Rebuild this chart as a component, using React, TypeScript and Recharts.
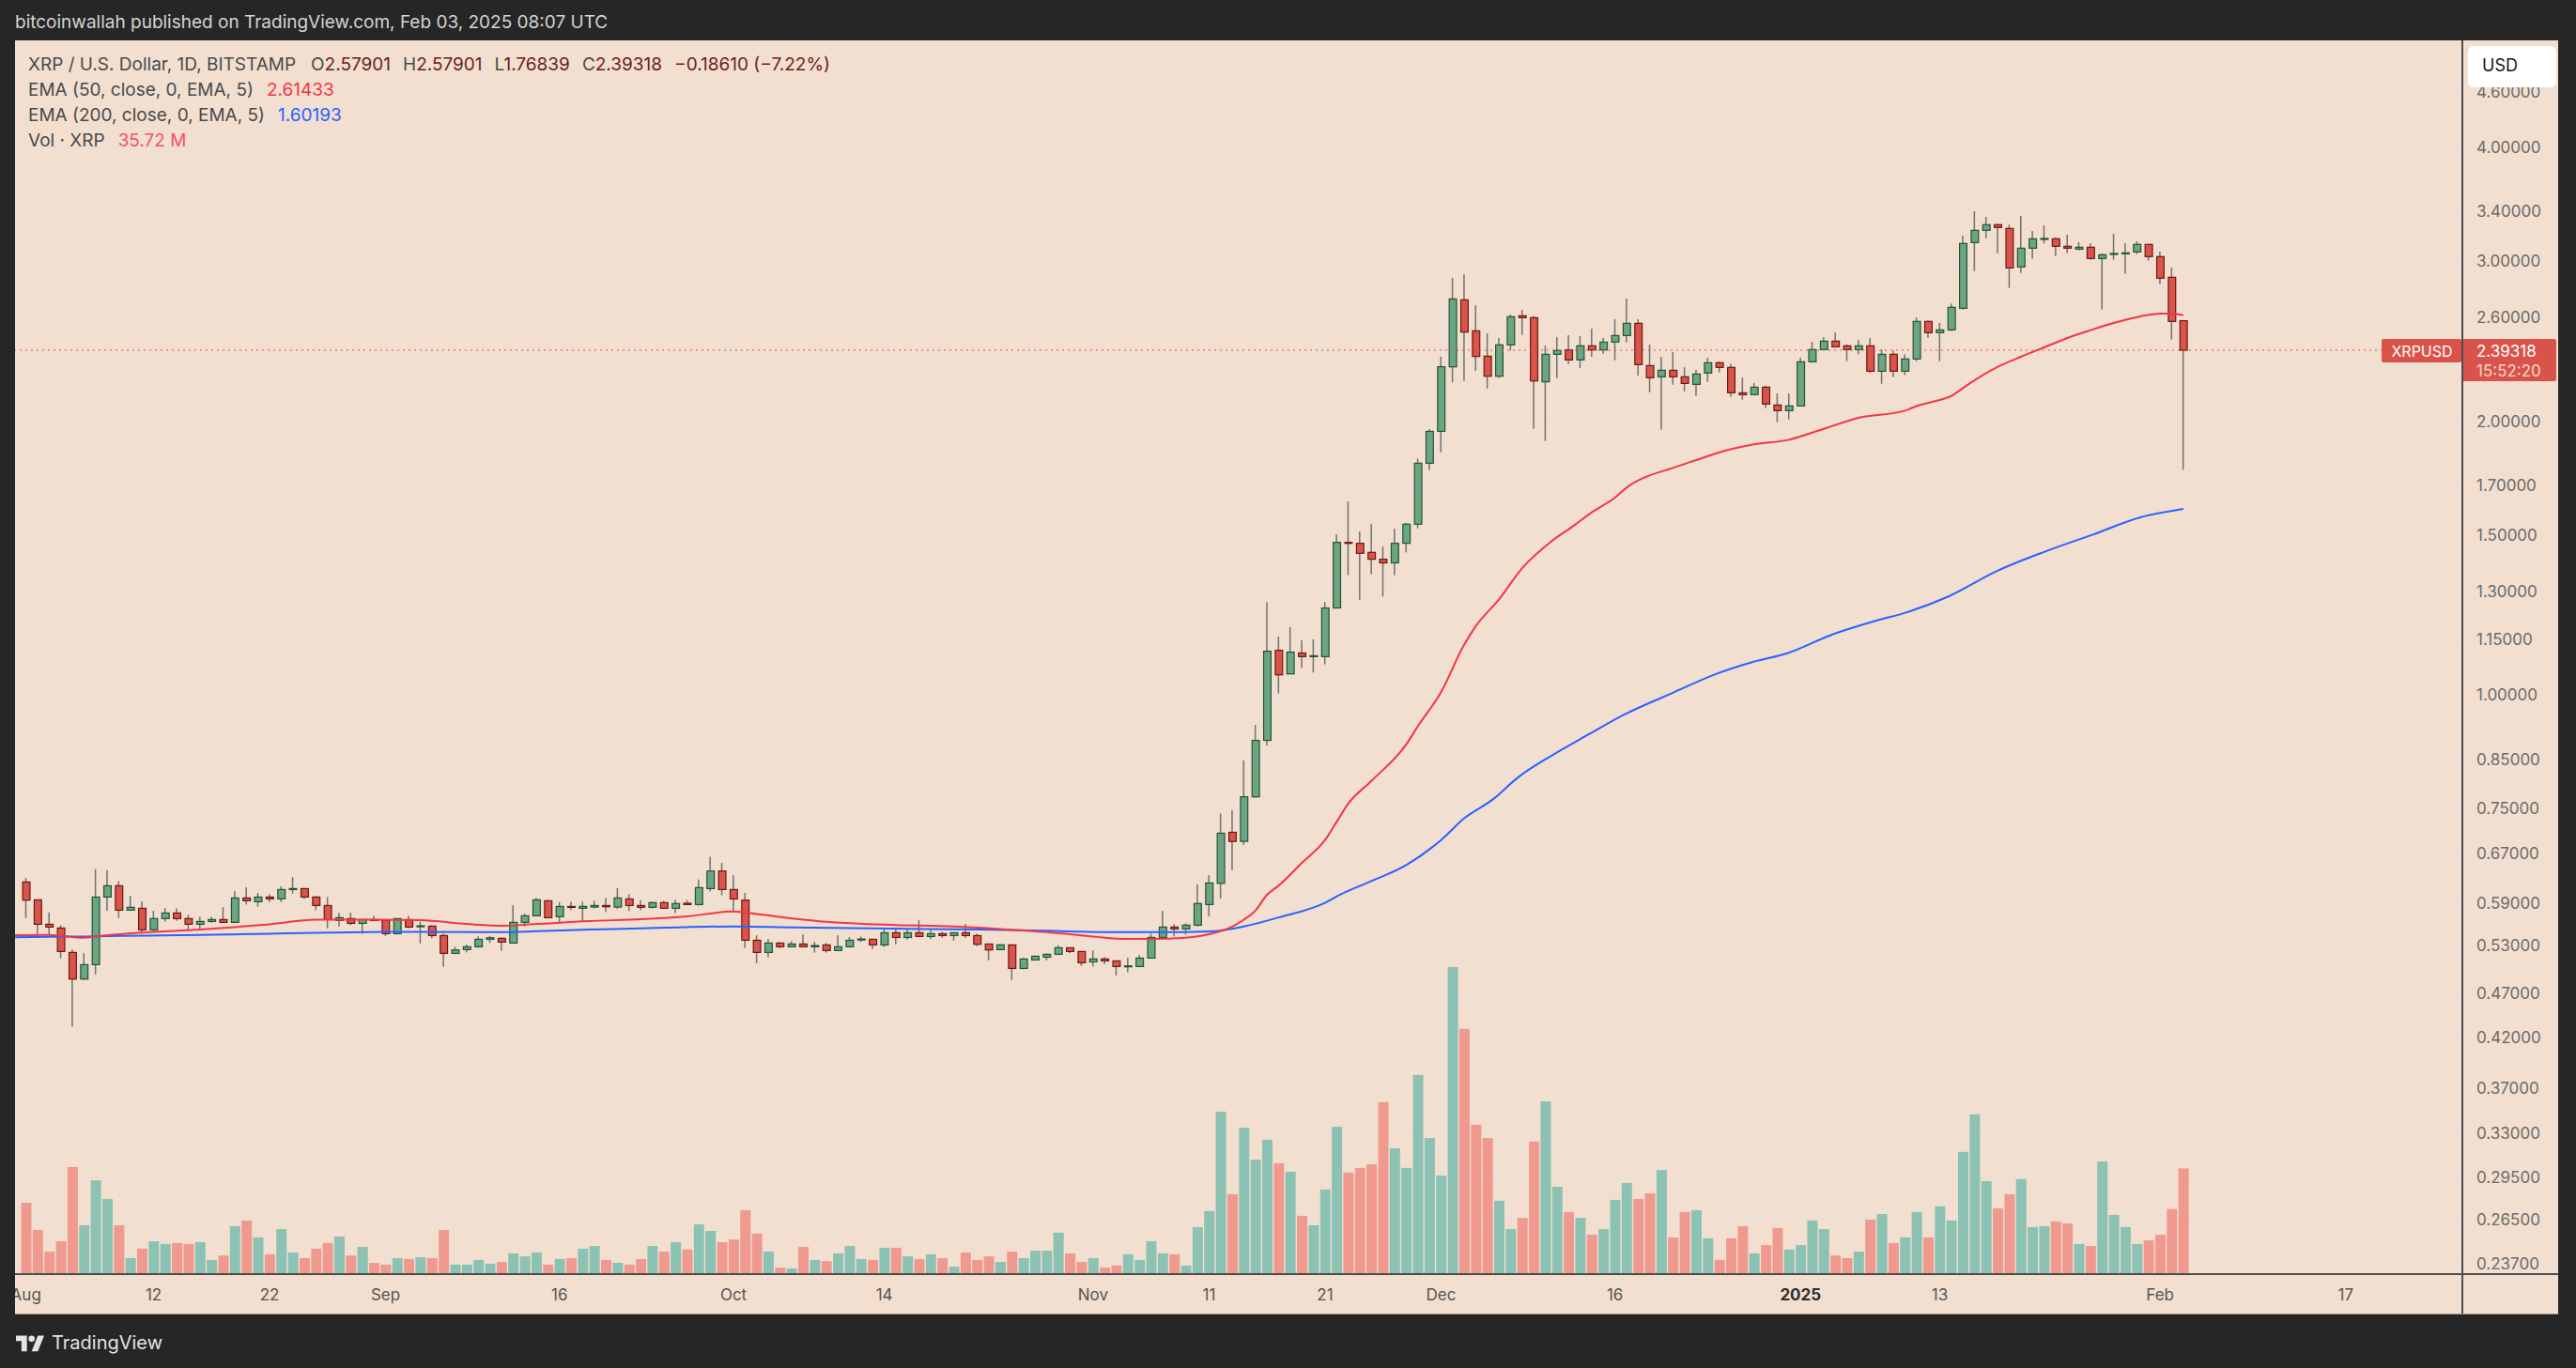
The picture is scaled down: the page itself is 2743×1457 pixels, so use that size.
import React from "react";
import { ComposedChart, Bar, Line, XAxis, YAxis, CartesianGrid, ReferenceLine } from "recharts";

// one candle per day, d = days since 2024-08-01 (last one is 2025-02-03)
const open = [
  0.6230, 0.5955, 0.5598, 0.5545, 0.5213, 0.4873, 0.5054, 0.5997, 0.6171, 0.5801, 0.5829, 0.5519, 0.5679, 0.5760, 0.5679, 0.5598,
  0.5638, 0.5665, 0.5625, 0.5983, 0.5927, 0.5997, 0.5969, 0.6112, 0.6127, 0.5997, 0.5870, 0.5652, 0.5679, 0.5611, 0.5665,
  0.5652, 0.5466, 0.5665, 0.5567, 0.5571, 0.5440, 0.5200, 0.5250, 0.5288, 0.5389, 0.5402, 0.5338, 0.5625, 0.5719, 0.5941,
  0.5706, 0.5856, 0.5829, 0.5847, 0.5870, 0.5847, 0.5969, 0.5870, 0.5843, 0.5913, 0.5829, 0.5904, 0.5884, 0.6127, 0.6405,
  0.6112, 0.5950, 0.5376, 0.5213, 0.5338, 0.5288, 0.5325, 0.5288, 0.5313, 0.5238, 0.5288, 0.5389, 0.5389, 0.5313, 0.5479,
  0.5414, 0.5479, 0.5427, 0.5466, 0.5440, 0.5479, 0.5440, 0.5325, 0.5250, 0.5313, 0.5006, 0.5114, 0.5151, 0.5188, 0.5275, 0.5225,
  0.5090, 0.5127, 0.5102, 0.5030, 0.5030, 0.5139, 0.5414, 0.5558, 0.5532, 0.5585, 0.5884, 0.6208, 0.7065, 0.6904, 0.7729,
  0.8915, 1.1199, 1.0548, 1.1122, 1.1020, 1.1020, 1.2465, 1.4714, 1.4681, 1.4347, 1.4101, 1.3972, 1.4681, 1.5408, 1.7980,
  1.9490, 2.2948, 2.7187, 2.5137, 2.3575, 2.2408, 2.4257, 2.6111, 2.5987, 2.2092, 2.3687, 2.3951, 2.3352, 2.4199, 2.3951,
  2.4430, 2.4838, 2.5619, 2.3020, 2.2374, 2.2749, 2.2374, 2.1951, 2.2587, 2.3186, 2.2912, 2.1488, 2.1386, 2.1795, 2.0834, 2.0538,
  2.0784, 2.3241, 2.3971, 2.4488, 2.4199, 2.3971, 2.4199, 2.2695, 2.3687, 2.2695, 2.3407, 2.5741, 2.5020, 2.5198, 2.6613,
  3.1429, 3.2416, 3.2883, 3.2571, 2.9547, 3.0985, 3.1732, 3.1732, 3.1132, 3.0912, 3.1059, 3.0186, 3.0546, 3.0546, 3.0693, 3.1282,
  3.0329, 2.8785, 2.57901,
];
const high = [
  0.6294, 0.5955, 0.5769, 0.5585, 0.5254, 0.5204, 0.6435, 0.6420, 0.6245, 0.6016, 0.5931, 0.5792, 0.5829, 0.5829, 0.5733, 0.5706,
  0.5706, 0.5847, 0.6088, 0.6147, 0.6060, 0.6040, 0.6161, 0.6309, 0.6127, 0.6011, 0.5997, 0.5764, 0.5764, 0.5665, 0.5719,
  0.5665, 0.5679, 0.5719, 0.5634, 0.5585, 0.5466, 0.5288, 0.5317, 0.5427, 0.5436, 0.5414, 0.5875, 0.5751, 0.5983, 0.5950,
  0.5922, 0.5927, 0.5927, 0.5941, 0.5983, 0.6132, 0.6040, 0.5950, 0.5927, 0.5941, 0.5955, 0.5950, 0.6269, 0.6640, 0.6538,
  0.6339, 0.6060, 0.5444, 0.5393, 0.5351, 0.5364, 0.5457, 0.5355, 0.5338, 0.5444, 0.5418, 0.5427, 0.5389, 0.5532, 0.5541,
  0.5532, 0.5656, 0.5523, 0.5492, 0.5479, 0.5602, 0.5466, 0.5325, 0.5325, 0.5313, 0.5143, 0.5163, 0.5200, 0.5308, 0.5275, 0.5225,
  0.5238, 0.5151, 0.5102, 0.5143, 0.5180, 0.5466, 0.5792, 0.5598, 0.5611, 0.6191, 0.6339, 0.7406, 0.7475, 0.8475, 0.9271,
  1.2653, 1.1593, 1.1877, 1.1487, 1.1514, 1.2653, 1.5022, 1.6322, 1.5127, 1.5425, 1.4562, 1.5232, 1.5461, 1.8189, 1.9601,
  2.3544, 2.8737, 2.9012, 2.6823, 2.4978, 2.4684, 2.6194, 2.6508, 2.6091, 2.4218, 2.4743, 2.4858, 2.4800, 2.5276, 2.4684,
  2.5884, 2.7273, 2.5884, 2.4276, 2.3538, 2.3819, 2.2930, 2.2767, 2.3481, 2.3260, 2.3130, 2.2338, 2.2020, 2.1882, 2.1454, 2.1454,
  2.3481, 2.4449, 2.4743, 2.5035, 2.4295, 2.4565, 2.4684, 2.3971, 2.3914, 2.3687, 2.6008, 2.5802, 2.5641, 2.6931, 3.1985,
  3.4022, 3.3540, 3.2961, 3.2883, 3.3620, 3.2366, 3.2831, 3.1831, 3.2059, 3.1455, 3.1381, 3.0571, 3.2134, 3.1381, 3.1530, 3.1282,
  3.0716, 2.9500, 2.57901,
];
const low = [
  0.5687, 0.5457, 0.5427, 0.5135, 0.4320, 0.4865, 0.4931, 0.5792, 0.5687, 0.5792, 0.5466, 0.5501, 0.5634, 0.5647, 0.5523, 0.5532,
  0.5620, 0.5620, 0.5616, 0.5884, 0.5852, 0.5922, 0.5922, 0.6050, 0.5969, 0.5801, 0.5541, 0.5567, 0.5585, 0.5466, 0.5643,
  0.5436, 0.5457, 0.5541, 0.5334, 0.5402, 0.5026, 0.5192, 0.5213, 0.5275, 0.5342, 0.5233, 0.5338, 0.5567, 0.5710, 0.5683,
  0.5625, 0.5801, 0.5638, 0.5829, 0.5774, 0.5820, 0.5788, 0.5801, 0.5829, 0.5820, 0.5760, 0.5884, 0.5870, 0.6084, 0.6026,
  0.5778, 0.5271, 0.5074, 0.5147, 0.5271, 0.5279, 0.5279, 0.5209, 0.5209, 0.5229, 0.5279, 0.5355, 0.5258, 0.5284, 0.5321,
  0.5385, 0.5423, 0.5393, 0.5410, 0.5372, 0.5410, 0.5296, 0.5110, 0.5246, 0.4861, 0.4994, 0.5110, 0.5110, 0.5184, 0.5204, 0.5038,
  0.5030, 0.5062, 0.4920, 0.4955, 0.5030, 0.5139, 0.5393, 0.5427, 0.5453, 0.5567, 0.5710, 0.5977, 0.6420, 0.6841, 0.7711,
  0.8803, 1.0039, 1.0548, 1.0707, 1.0585, 1.0806, 1.2465, 1.3544, 1.2727, 1.3575, 1.2829, 1.3544, 1.4347, 1.5249, 1.7672,
  1.8482, 2.2074, 2.2143, 2.2713, 2.1726, 2.2321, 2.3914, 2.4878, 1.9617, 1.9020, 2.2302, 2.3112, 2.2875, 2.3538, 2.3725,
  2.3333, 2.4410, 2.2445, 2.1520, 1.9570, 2.1934, 2.1573, 2.1317, 2.2092, 2.2623, 2.1266, 2.1115, 2.1352, 2.0668, 1.9945, 2.0087,
  2.0784, 2.3241, 2.3971, 2.4104, 2.3278, 2.3687, 2.2587, 2.1986, 2.2355, 2.2481, 2.3278, 2.4704, 2.3280, 2.5119, 2.6529,
  2.9245, 3.1780, 3.0595, 2.8020, 2.9106, 3.0164, 3.1356, 3.0378, 3.0595, 3.0814, 3.0090, 2.6529, 3.0090, 2.9037, 3.0522, 3.0019,
  2.8287, 2.4586, 1.76839,
];
const close = [
  0.5950, 0.5598, 0.5558, 0.5225, 0.4873, 0.5054, 0.5997, 0.6171, 0.5801, 0.5843, 0.5519, 0.5679, 0.5760, 0.5679, 0.5598, 0.5638,
  0.5665, 0.5625, 0.5983, 0.5941, 0.5997, 0.5969, 0.6112, 0.6127, 0.5997, 0.5870, 0.5665, 0.5692, 0.5611, 0.5665, 0.5656,
  0.5466, 0.5679, 0.5558, 0.5576, 0.5440, 0.5200, 0.5246, 0.5288, 0.5389, 0.5410, 0.5351, 0.5625, 0.5719, 0.5955, 0.5692,
  0.5856, 0.5843, 0.5856, 0.5870, 0.5852, 0.5983, 0.5870, 0.5843, 0.5913, 0.5829, 0.5899, 0.5884, 0.6142, 0.6405, 0.6112,
  0.5969, 0.5376, 0.5213, 0.5338, 0.5288, 0.5325, 0.5288, 0.5304, 0.5238, 0.5288, 0.5376, 0.5393, 0.5313, 0.5479, 0.5414,
  0.5479, 0.5427, 0.5466, 0.5440, 0.5479, 0.5440, 0.5321, 0.5246, 0.5313, 0.5006, 0.5127, 0.5163, 0.5188, 0.5275, 0.5225, 0.5078,
  0.5127, 0.5102, 0.5030, 0.5038, 0.5139, 0.5414, 0.5558, 0.5532, 0.5585, 0.5899, 0.6215, 0.7049, 0.6904, 0.7729, 0.8915,
  1.1173, 1.0524, 1.1148, 1.1020, 1.1046, 1.2465, 1.4714, 1.4697, 1.4314, 1.4101, 1.3972, 1.4681, 1.5408, 1.7980, 1.9490,
  2.2953, 2.7251, 2.5057, 2.3557, 2.2408, 2.4257, 2.6050, 2.5987, 2.2143, 2.3687, 2.3914, 2.3352, 2.4199, 2.3951, 2.4430,
  2.4838, 2.5619, 2.3075, 2.2321, 2.2749, 2.2374, 2.2003, 2.2534, 2.3186, 2.2912, 2.1488, 2.1386, 2.1795, 2.0882, 2.0538, 2.0784,
  2.3241, 2.3971, 2.4488, 2.4142, 2.3971, 2.4199, 2.2695, 2.3687, 2.2695, 2.3407, 2.5741, 2.5017, 2.5198, 2.6677, 3.1356,
  3.2416, 3.2883, 3.2650, 2.9476, 3.0985, 3.1732, 3.1754, 3.1132, 3.0985, 3.1059, 3.0186, 3.0475, 3.0571, 3.0620, 3.1282, 3.0329,
  2.8716, 2.5742, 2.39318,
];
// volume in millions of XRP
const volume = [
  24.1, 14.9, 7.6, 11.1, 36.2, 16.5, 31.7, 25.4, 16.5, 5.4, 8.6, 11.1, 10.2, 10.5, 10.2, 10.8, 4.8, 6.3, 16.2, 18.1, 12.4, 6.7,
  15.2, 7.3, 5.4, 8.6, 10.5, 12.7, 6.3, 9.2, 3.8,
  3.2, 5.4, 5.1, 5.7, 5.4, 14.9, 3.2, 3.2, 4.8, 3.5, 4.1, 7.0, 6.0, 7.3, 3.2, 5.1, 5.4, 8.6, 9.5, 4.8, 3.8, 3.2, 5.1, 9.5,
  7.6, 10.8, 8.3, 16.8, 14.6, 10.8,
  11.7, 21.6, 13.7, 7.6, 2.2, 1.9, 9.2, 4.8, 4.4, 7.0, 9.5, 5.1, 4.8, 8.9, 8.9, 6.0, 5.1, 6.7, 5.4, 2.5, 7.3, 4.8, 6.0, 4.1,
  7.6, 5.4, 7.9, 7.9, 14.0, 7.0, 4.1,
  5.4, 2.2, 2.9, 6.7, 4.8, 11.1, 7.0, 6.7, 2.9, 15.9, 21.3, 54.9, 27.0, 49.5, 38.7, 45.4, 37.5, 34.6, 19.7, 16.5, 28.6, 49.8,
  34.3, 35.9, 37.1, 58.1, 42.5, 35.9, 67.3, 46.0,
  33.3, 103.8, 82.9, 50.5, 46.0, 24.8, 15.2, 19.0, 44.8, 58.4, 29.5, 21.0, 19.0, 13.3, 15.2, 25.1, 30.8, 25.4, 27.3, 35.2,
  12.4, 21.0, 21.6, 12.1, 4.8, 12.1, 16.2, 7.0, 9.8, 15.6, 8.3,
  9.8, 18.1, 15.2, 6.3, 5.4, 7.6, 18.4, 20.3, 10.5, 12.4, 21.0, 12.4, 22.9, 18.1, 41.3, 54.0, 31.4, 22.2, 27.0, 32.1, 15.9,
  16.2, 17.8, 17.1, 10.2, 9.5, 38.1, 20.0, 15.9, 10.2, 11.4,
  13.3, 22.0, 35.72,
];

// moving averages at sample days
const ema50Days = [-1, 2, 5, 6, 10, 15, 18, 21, 25, 29.5, 34, 38, 41, 44, 48.5, 53, 57, 61, 63.5, 69, 74.5, 80, 84, 88, 92, 95,
  97, 100, 102, 104, 105, 106, 107, 108, 110, 112, 113, 114, 116, 119, 120, 122, 124, 125, 127, 129, 131.5, 133.5, 135, 137,
  138, 139, 142, 144, 146, 149, 152, 155, 158, 162, 163, 164.6, 166, 167, 168.3, 170, 172, 174, 176, 178, 180, 182.4, 184, 185, 186];
const ema50Values = [0.5444, 0.5449, 0.5410, 0.5427, 0.5480, 0.5525, 0.5558, 0.5598, 0.5665, 0.5665, 0.5656, 0.5602, 0.5576,
  0.5602, 0.5643, 0.5669, 0.5710, 0.5783, 0.5733, 0.5634, 0.5589, 0.5567, 0.5532, 0.5488, 0.5427, 0.5393, 0.5393, 0.5410,
  0.5458, 0.5566, 0.5663, 0.5795, 0.6032, 0.6173, 0.6539, 0.6928, 0.7254, 0.7596, 0.8046, 0.8823, 0.9239, 1.0073, 1.1360,
  1.1904, 1.2739, 1.3789, 1.4750, 1.5370, 1.5880, 1.6480, 1.6903, 1.7212, 1.7768, 1.8123, 1.8484, 1.8855, 1.9080, 1.9616,
  2.0169, 2.0538, 2.0780, 2.1034, 2.1320, 2.1746, 2.2303, 2.2948, 2.3539, 2.4105, 2.4686, 2.5178, 2.5641, 2.6091, 2.6256,
  2.6256, 2.61433];
const ema200Days = [-1, 2, 5, 10.5, 15, 18, 21, 25, 29.5, 34, 41, 44, 48.5, 53, 57, 61, 66, 74.5, 82.5, 88, 93, 99, 102.5, 105,
  108, 112, 113.3, 116, 119, 122, 124, 126.5, 128.6, 131.5, 134.8, 137.7, 141.9, 145.6, 148.9, 151.8, 155.9, 159.6, 162.1,
  165.8, 169.9, 174.1, 178.2, 182.3, 186];
const ema200Values = [0.5418, 0.5423, 0.5427, 0.5440, 0.5449, 0.5457, 0.5466, 0.5479, 0.5488, 0.5492, 0.5488, 0.5501, 0.5523,
  0.5541, 0.5558, 0.5567, 0.5554, 0.5536, 0.5523, 0.5506, 0.5488, 0.5488, 0.5502, 0.5566, 0.5696, 0.5910, 0.6032, 0.6245,
  0.6502, 0.6928, 0.7320, 0.7684, 0.8111, 0.8573, 0.9062, 0.9503, 1.0045, 1.0534, 1.0873, 1.1108, 1.1676, 1.2081, 1.2323,
  1.2841, 1.3680, 1.4380, 1.5010, 1.5678, 1.60193];

const xTickDays = [0, 11, 21, 31, 46, 61, 74, 92, 102, 112, 122, 137, 153, 165, 184, 200];
const xTickLabels = ["Aug", "12", "22", "Sep", "16", "Oct", "14", "Nov", "11", "21", "Dec", "16", "2025", "13", "Feb", "17"];
const priceTicks = [0.237, 0.265, 0.295, 0.33, 0.37, 0.42, 0.47, 0.53, 0.59, 0.67, 0.75, 0.85, 1, 1.15, 1.3, 1.5, 1.7, 2, 2.3,
  2.6, 3, 3.4, 4, 4.6];
const lastClose = 2.39318;

const candles = open.map((o, i) => ({ d: i, o, h: high[i], l: low[i], c: close[i], v: volume[i] }));
const ema50 = ema50Days.map((d, i) => ({ d, v: ema50Values[i] }));
const ema200 = ema200Days.map((d, i) => ({ d, v: ema200Values[i] }));

const FONT = "Inter, Roboto, 'Noto Sans', sans-serif";
const BG = "#f2dfd0";
const UP = "#6ba583";
const UP_EDGE = "#1f5536";
const DOWN = "#d9544a";
const DOWN_EDGE = "#6e1810";
const VOL_UP = "#8cc2b4";
const VOL_DOWN = "#f09a8f";
const X_DOMAIN: [number, number] = [-0.947, 209.98];

const Wick = (props: any) => {
  const { x, y, width, height } = props;
  if (x == null || y == null) return null;
  const top = Math.min(y, y + height);
  return <rect x={x + width / 2 - 0.75} y={top} width={1.5} height={Math.max(1, Math.abs(height))} fill="#727272" />;
};

const Body = (props: any) => {
  const { x, y, width, height, payload } = props;
  if (x == null || y == null) return null;
  const up = payload.c >= payload.o;
  const top = Math.min(y, y + height);
  const h = Math.max(1, Math.abs(height));
  return (
    <rect x={x + 0.6} y={top} width={width - 1.2} height={h} fill={up ? UP : DOWN}
      stroke={up ? UP_EDGE : DOWN_EDGE} strokeWidth={1.2} />
  );
};

const VolBar = (props: any) => {
  const { x, y, width, height, payload } = props;
  if (x == null || y == null) return null;
  return <rect x={x} y={y} width={width} height={Math.max(0, height)} fill={payload.c >= payload.o ? VOL_UP : VOL_DOWN} />;
};

const PriceTick = (props: any) => {
  const { x, y, payload } = props;
  // the 2.3 label sits under the last-price tag
  if (Math.abs(payload.value - 2.3) < 1e-6) return <g />;
  return (
    <text x={x + 8} y={y} dominantBaseline="central" fill="#6b6b6b" fontSize={17} fontFamily={FONT}>
      {Number(payload.value).toFixed(5)}
    </text>
  );
};

const DateTick = (props: any) => {
  const { x, y, payload } = props;
  const label = xTickLabels[xTickDays.indexOf(payload.value)];
  const bold = label === "2025";
  return (
    <text x={x} y={y + 14} textAnchor="middle" dominantBaseline="central" fontSize={17} fontFamily={FONT}
      fill={bold ? "#2e2e2e" : "#555"} fontWeight={bold ? 700 : 400}>
      {label}
    </text>
  );
};

const PriceTag = (props: any) => {
  const vb = props.viewBox || {};
  const right = vb.x + vb.width;
  const y = vb.y;
  return (
    <g fontFamily={FONT}>
      <rect x={right - 85} y={y - 12} width={85} height={25} rx={2} fill="#d9534a" />
      <text x={right - 42} y={y + 1} textAnchor="middle" dominantBaseline="central" fill="#fff" fontSize={16}>XRPUSD</text>
      <rect x={right} y={y - 12} width={101} height={45} rx={2} fill="#d9534a" />
      <text x={right + 16} y={y + 1} dominantBaseline="central" fill="#fff" fontSize={17}>{lastClose.toFixed(5)}</text>
      <text x={right + 16} y={y + 22} dominantBaseline="central" fill="#f6d6d2" fontSize={17}>15:52:20</text>
    </g>
  );
};

function Legend() {
  const lab = { color: "#4a4a4a" };
  const val = { color: "#6b1d1d" };
  const row = (top: number): React.CSSProperties => ({
    position: "absolute", left: 30, top, height: 26, lineHeight: "26px", fontSize: 19, whiteSpace: "nowrap",
  });
  return (
    <>
      <div style={row(56)}>
        <span style={lab}>XRP / U.S. Dollar, 1D, BITSTAMP</span>
        <span style={{ ...lab, marginLeft: 16 }}>O</span><span style={val}>2.57901</span>
        <span style={{ ...lab, marginLeft: 13 }}>H</span><span style={val}>2.57901</span>
        <span style={{ ...lab, marginLeft: 13 }}>L</span><span style={val}>1.76839</span>
        <span style={{ ...lab, marginLeft: 13 }}>C</span><span style={val}>2.39318</span>
        <span style={{ ...val, marginLeft: 13 }}>−0.18610 (−7.22%)</span>
      </div>
      <div style={row(83)}>
        <span style={lab}>EMA (50, close, 0, EMA, 5)</span>
        <span style={{ color: "#f23645", marginLeft: 14 }}>2.61433</span>
      </div>
      <div style={row(110)}>
        <span style={lab}>EMA (200, close, 0, EMA, 5)</span>
        <span style={{ color: "#2962ff", marginLeft: 14 }}>1.60193</span>
      </div>
      <div style={row(137)}>
        <span style={lab}>Vol · XRP</span>
        <span style={{ color: "#f7525f", marginLeft: 14 }}>35.72 M</span>
      </div>
    </>
  );
}

export default function App() {
  return (
    <div style={{ position: "relative", width: 2743, height: 1457, background: "#262626", overflow: "hidden", fontFamily: FONT }}>
      <style>{"body{margin:0;background:#262626;}"}</style>
      <div style={{ position: "absolute", left: 16, top: 12, fontSize: 19, color: "#d4d4d4", whiteSpace: "nowrap" }}>
        bitcoinwallah published on TradingView.com, Feb 03, 2025 08:07 UTC
      </div>

      <div style={{ position: "absolute", left: 16, top: 43, width: 2708, height: 1357, background: BG }}>
        <ComposedChart width={2708} height={1357} data={candles} margin={{ top: 0, right: 0, bottom: 0, left: 0 }}>
          <CartesianGrid xAxisId="price" yAxisId="price" stroke="#e7e1dc" strokeWidth={1.5} />
          <XAxis xAxisId="price" dataKey="d" type="number" domain={X_DOMAIN} allowDataOverflow ticks={xTickDays}
            interval={0} height={43} axisLine={false} tickLine={false} tick={<DateTick />} />
          <XAxis xAxisId="body" dataKey="d" type="number" domain={X_DOMAIN} allowDataOverflow hide height={0} />
          <XAxis xAxisId="vol" dataKey="d" type="number" domain={X_DOMAIN} allowDataOverflow hide height={0} />
          <XAxis xAxisId="ema" dataKey="d" type="number" domain={X_DOMAIN} allowDataOverflow hide height={0} />
          <YAxis yAxisId="price" orientation="right" width={103} scale="log" domain={[0.23094, 5.2427]}
            allowDataOverflow ticks={priceTicks} interval={0} axisLine={false} tickLine={false} tick={<PriceTick />} />
          <YAxis yAxisId="vol" hide width={0} domain={[0, 417]} allowDataOverflow />

          <Bar xAxisId="vol" yAxisId="vol" dataKey="v" barSize={11} shape={<VolBar />} isAnimationActive={false} />
          <Line xAxisId="ema" yAxisId="price" data={ema200} dataKey="v" type="monotone" stroke="#2962ff" strokeWidth={2}
            dot={false} activeDot={false} isAnimationActive={false} />
          <Line xAxisId="ema" yAxisId="price" data={ema50} dataKey="v" type="monotone" stroke="#f23645" strokeWidth={2}
            dot={false} activeDot={false} isAnimationActive={false} />
          <Bar xAxisId="price" yAxisId="price" dataKey={(r: any) => [r.l, r.h]} barSize={2} shape={<Wick />}
            isAnimationActive={false} />
          <Bar xAxisId="body" yAxisId="price" dataKey={(r: any) => [Math.min(r.o, r.c), Math.max(r.o, r.c)]} barSize={9}
            shape={<Body />} isAnimationActive={false} />
          <ReferenceLine xAxisId="price" yAxisId="price" y={lastClose} stroke="#d9534a" strokeDasharray="2 4"
            strokeWidth={1.2} label={<PriceTag />} />
        </ComposedChart>
      </div>

      {/* pane borders */}
      <div style={{ position: "absolute", left: 2621, top: 43, width: 1.5, height: 1357, background: "#4d4d4d" }} />
      <div style={{ position: "absolute", left: 16, top: 1356, width: 2708, height: 1.5, background: "#4d4d4d" }} />
      <div style={{ position: "absolute", left: 16, top: 1399, width: 2708, height: 1, background: "#9a928c" }} />

      <Legend />

      <div style={{ position: "absolute", left: 2628, top: 49, width: 94, height: 44, background: "#fff", borderRadius: 6,
        fontSize: 18, lineHeight: "42px", color: "#131722", paddingLeft: 15, boxSizing: "border-box" }}>USD</div>

      <div style={{ position: "absolute", left: 17, top: 1418, display: "flex", alignItems: "center", gap: 8, color: "#e4e4e4", fontSize: 20 }}>
        <svg width={30} height={22} viewBox="0 0 36 26">
          <path d="M14 24H7V11H0V4h14z" fill="#e4e4e4" />
          <circle cx={20} cy={8} r={4} fill="#e4e4e4" />
          <path d="M28 4h8l-8 20h-8z" fill="#e4e4e4" />
        </svg>
        <span>TradingView</span>
      </div>
    </div>
  );
}
